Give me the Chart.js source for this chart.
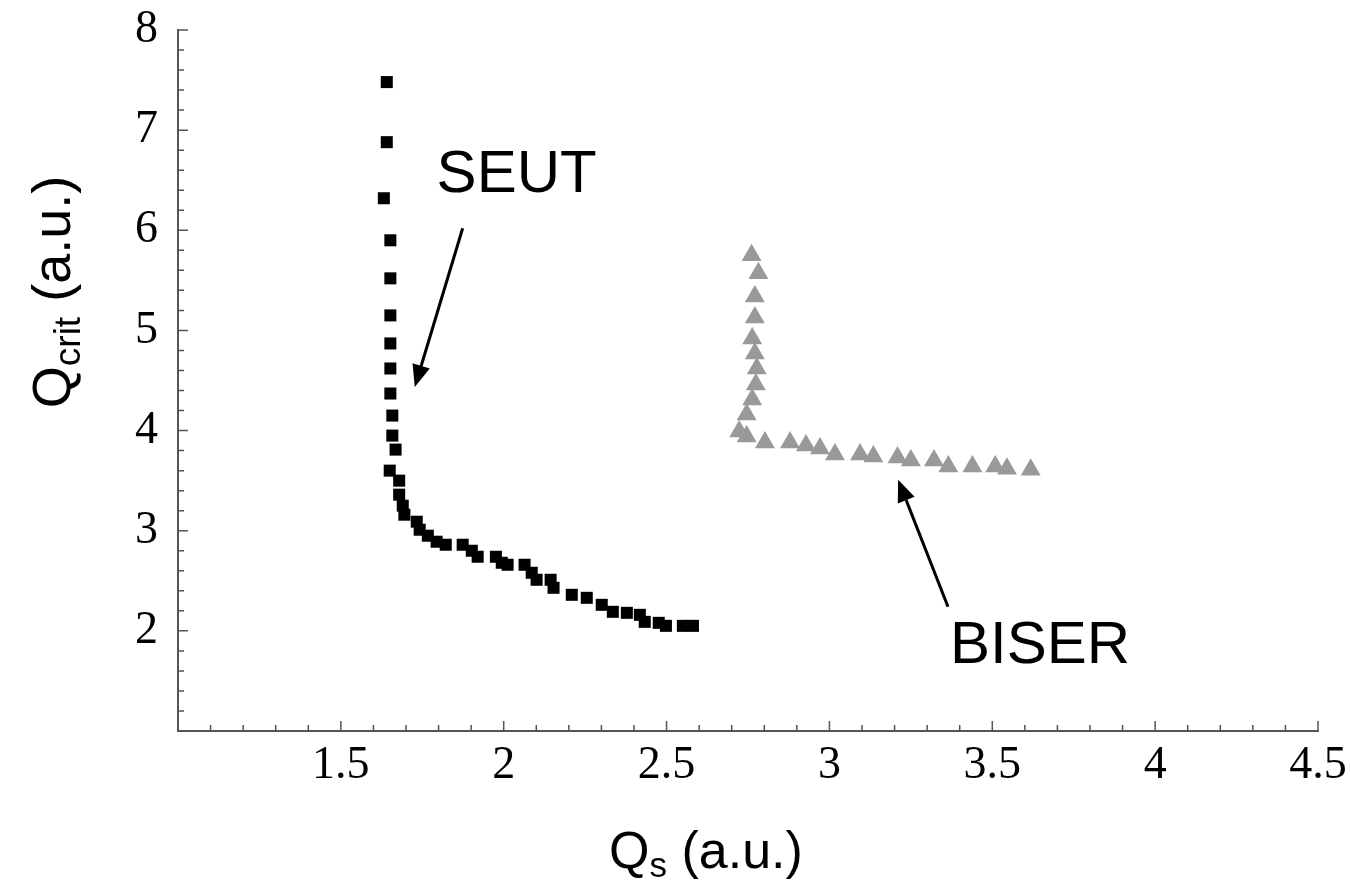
<!DOCTYPE html>
<html lang="en">
<head>
    <meta charset="UTF-8">
    <title>Qcrit vs Qs</title>
    <script src="https://cdn.jsdelivr.net/npm/chart.js"></script>
    <style>
        body { margin: 0; background: #fff; }
        #wrap { width: 1350px; height: 894px; }
    </style>
</head>
<body>
<div id="wrap"><canvas id="myChart" width="1350" height="894"></canvas></div>
<script>
    // SEUT (black squares)
    const seutQs   = [1.641, 1.641, 1.632, 1.652, 1.652, 1.652, 1.652, 1.652, 1.652, 1.658, 1.658, 1.668, 1.650, 1.679, 1.679, 1.690, 1.695, 1.733, 1.742, 1.767, 1.794, 1.822, 1.874, 1.902, 1.920, 1.976, 1.994, 2.012, 2.064, 2.086, 2.101, 2.144, 2.153, 2.209, 2.255, 2.301, 2.335, 2.378, 2.418, 2.433, 2.476, 2.498, 2.550, 2.581]
    const seutQcrit = [7.48, 6.88, 6.32, 5.90, 5.52, 5.15, 4.87, 4.62, 4.37, 4.15, 3.95, 3.81, 3.60, 3.50, 3.36, 3.25, 3.16, 3.09, 3.01, 2.95, 2.89, 2.86, 2.86, 2.80, 2.74, 2.74, 2.68, 2.66, 2.66, 2.58, 2.51, 2.51, 2.43, 2.36, 2.33, 2.26, 2.19, 2.18, 2.16, 2.09, 2.08, 2.05, 2.05, 2.05]

    // BISER (grey triangles)
    const biserQs   = [2.761, 2.782, 2.771, 2.771, 2.763, 2.771, 2.777, 2.774, 2.763, 2.746, 2.723, 2.746, 2.802, 2.879, 2.928, 2.971, 3.017, 3.094, 3.135, 3.209, 3.250, 3.321, 3.365, 3.439, 3.509, 3.545, 3.618]
    const biserQcrit = [5.75, 5.57, 5.34, 5.13, 4.92, 4.77, 4.62, 4.46, 4.31, 4.16, 3.99, 3.94, 3.88, 3.88, 3.85, 3.82, 3.76, 3.76, 3.74, 3.73, 3.70, 3.70, 3.64, 3.64, 3.64, 3.62, 3.61]

    const xTickLabels = [1.5, 2, 2.5, 3, 3.5, 4, 4.5]
    const yTickLabels = [2, 3, 4, 5, 6, 7, 8]

    function toPoints(xs, ys) {
        return xs.map((x, i) => ({ x: x, y: ys[i] }))
    }

    const serif = '"Liberation Serif", "Times New Roman", serif'
    const sans = '"Liberation Sans", Arial, sans-serif'

    // small inward ticks + titles + annotation arrows
    const extras = {
        id: 'extras',
        afterDraw(chart) {
            const ctx = chart.ctx
            const xs = chart.scales.x
            const ys = chart.scales.y
            const area = chart.chartArea
            ctx.save()
            ctx.strokeStyle = '#555'
            ctx.lineWidth = 1.5
            ctx.beginPath()
            for (let i = 10; i <= 45; i++) {
                const px = xs.getPixelForValue(i / 10)
                const len = i % 5 === 0 ? 10 : 6
                ctx.moveTo(px, area.bottom)
                ctx.lineTo(px, area.bottom - len)
            }
            for (let i = 5; i <= 40; i++) {
                const py = ys.getPixelForValue(i / 5)
                const len = i % 5 === 0 ? 10 : 6
                ctx.moveTo(area.left, py)
                ctx.lineTo(area.left + len, py)
            }
            ctx.stroke()

            // axis titles with subscripts
            ctx.fillStyle = '#000'
            ctx.textBaseline = 'alphabetic'
            drawSub(ctx, 'Q', 's', ' (a.u.)', 52, 706, 868, 0)
            drawSub(ctx, 'Q', 'crit', ' (a.u.)', 54, 70, 292, -Math.PI / 2)

            // annotations
            ctx.font = '60px ' + sans
            ctx.textAlign = 'left'
            ctx.fillText('SEUT', xs.getPixelForValue(1.794), ys.getPixelForValue(6.38))
            ctx.fillText('BISER', xs.getPixelForValue(3.37), ys.getPixelForValue(1.68))
            arrow(ctx, xs.getPixelForValue(1.874), ys.getPixelForValue(6.02), xs.getPixelForValue(1.727), ys.getPixelForValue(4.435))
            arrow(ctx, xs.getPixelForValue(3.364), ys.getPixelForValue(2.24), xs.getPixelForValue(3.211), ys.getPixelForValue(3.51))
            ctx.restore()
        }
    }

    function drawSub(ctx, main, sub, rest, size, cx, cy, rot) {
        const big = size + 'px ' + sans
        const small = Math.round(size * 0.68) + 'px ' + sans
        ctx.font = big
        const w1 = ctx.measureText(main).width
        const w3 = ctx.measureText(rest).width
        ctx.font = small
        const w2 = ctx.measureText(sub).width
        const total = w1 + w2 + w3
        ctx.save()
        ctx.translate(cx, cy)
        ctx.rotate(rot)
        ctx.textAlign = 'left'
        let x = -total / 2
        ctx.font = big
        ctx.fillText(main, x, 0)
        x += w1
        ctx.font = small
        ctx.fillText(sub, x, size * 0.18)
        x += w2
        ctx.font = big
        ctx.fillText(rest, x, 0)
        ctx.restore()
    }

    function arrow(ctx, x0, y0, x1, y1) {
        const ang = Math.atan2(y1 - y0, x1 - x0)
        const head = 22
        const half = 9
        const bx = x1 - Math.cos(ang) * head
        const by = y1 - Math.sin(ang) * head
        ctx.strokeStyle = '#000'
        ctx.lineWidth = 3
        ctx.beginPath()
        ctx.moveTo(x0, y0)
        ctx.lineTo(bx, by)
        ctx.stroke()
        ctx.beginPath()
        ctx.moveTo(x1, y1)
        ctx.lineTo(bx + Math.sin(ang) * half, by - Math.cos(ang) * half)
        ctx.lineTo(bx - Math.sin(ang) * half, by + Math.cos(ang) * half)
        ctx.closePath()
        ctx.fill()
    }

    const data = {
        datasets: [
            {
                label: 'SEUT',
                data: toPoints(seutQs, seutQcrit),
                pointStyle: 'rect',
                pointRadius: 8.5,
                backgroundColor: '#000',
                borderWidth: 0,
                showLine: false
            },
            {
                label: 'BISER',
                data: toPoints(biserQs, biserQcrit),
                pointStyle: 'triangle',
                pointRadius: 11.5,
                backgroundColor: '#999999',
                borderWidth: 0,
                showLine: false
            }
        ]
    }

    const config = {
        type: 'scatter',
        data: data,
        options: {
            responsive: false,
            animation: false,
            events: [],
            layout: { padding: { top: 30, right: 32, left: 0, bottom: 0 } },
            plugins: {
                legend: { display: false },
                tooltip: { enabled: false }
            },
            scales: {
                x: {
                    type: 'linear',
                    min: 1,
                    max: 4.5,
                    afterFit: (s) => { s.height = 163; s.paddingLeft = 0; s.paddingRight = 0 },
                    afterBuildTicks: (s) => { s.ticks = xTickLabels.map(v => ({ value: v })) },
                    grid: { display: true, drawOnChartArea: false, drawTicks: false },
                    border: { display: true, color: '#555', width: 2 },
                    ticks: {
                        color: '#000',
                        padding: 7,
                        maxRotation: 0,
                        autoSkip: false,
                        font: { family: serif, size: 46 },
                        callback: (v) => String(v)
                    }
                },
                y: {
                    type: 'linear',
                    min: 1,
                    max: 8,
                    afterFit: (s) => { s.width = 178; s.paddingTop = 0; s.paddingBottom = 0 },
                    afterBuildTicks: (s) => { s.ticks = yTickLabels.map(v => ({ value: v })) },
                    grid: { display: true, drawOnChartArea: false, drawTicks: false },
                    border: { display: true, color: '#555', width: 2 },
                    ticks: {
                        color: '#000',
                        padding: 20,
                        autoSkip: false,
                        font: { family: serif, size: 46 },
                        callback: (v) => String(v)
                    }
                }
            }
        },
        plugins: [extras]
    }

    const myChart = new Chart(document.getElementById('myChart'), config)
</script>
</body>
</html>
